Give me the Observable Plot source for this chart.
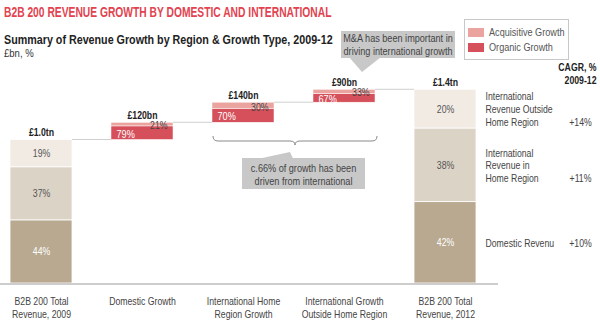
<!DOCTYPE html>
<html><head><meta charset="utf-8">
<script src="https://cdn.jsdelivr.net/npm/d3@7"></script>
<script src="https://cdn.jsdelivr.net/npm/@observablehq/plot@0.6"></script>
<style>
body{margin:0;background:#fff;}
#wrap{position:relative;width:600px;height:323px;overflow:hidden;}
</style></head><body><div id="wrap"></div>
<script>
// ---- data ----
const categories = ["B2B 200 Total\nRevenue, 2009", "Domestic Growth", "International Home\nRegion Growth", "International Growth\nOutside Home Region", "B2B 200 Total\nRevenue, 2012"];
const barLabels = ["£1.0tn", "£120bn", "£140bn", "£90bn", "£1.4tn"];
const segments = ["Domestic Revenu", "International\nRevenue in\nHome Region", "International\nRevenue Outside\nHome Region"];
const total2009 = 1000;
const total2012 = 1350;
const share2009 = [44, 37, 19];
const share2012 = [42, 38, 20];
const growthValues = [120, 140, 90];
const organicPct = [79, 70, 67];
const acquisitivePct = [21, 30, 33];
const cagr = ["+10%", "+11%", "+14%"];
const legendItems = ["Acquisitive Growth", "Organic Growth"];
const callout1 = ["M&A has been important in", "driving international growth"];
const callout2 = ["c.66% of growth has been", "driven from international"];
const titleText = "B2B 200 REVENUE GROWTH BY DOMESTIC AND INTERNATIONAL";
const subtitleText = "Summary of Revenue Growth by Region & Growth Type, 2009-12";
const unitText = "£bn, %";
const cagrHeader = ["CAGR, %", "2009-12"];

// ---- styles ----
const FONT = '"Liberation Sans", Arial, sans-serif';
const NARROW = 0.83;
const segColors = ["#b8a990", "#dcd3c7", "#f1ebe4"];
const segText = ["#ffffff", "#555555", "#555555"];
const organicColor = "#d5505a";
const acquisitiveColor = "#eba39f";

// ---- derived tables ----
const stackRows = [];
function addStack(cat, total, shares) {
  let acc = 0;
  shares.forEach((s, i) => {
    const v = total * s / 100;
    stackRows.push({cat, y1: acc, y2: acc + v, seg: i, label: s + "%"});
    acc += v;
  });
}
addStack(categories[0], total2009, share2009);
addStack(categories[4], total2012, share2012);

const growthRows = [];
const tops = [total2009];
let base = total2009;
growthValues.forEach((v, i) => {
  const cat = categories[i + 1];
  const org = v * organicPct[i] / 100;
  growthRows.push({cat, y1: base, y2: base + org, type: "organic", label: organicPct[i] + "%"});
  growthRows.push({cat, y1: base + org, y2: base + v, type: "acquisitive", label: acquisitivePct[i] + "%"});
  base += v;
  tops.push(base);
});
tops[4] = total2012;
const topRows = categories.map((c, i) => ({cat: c, y: tops[i], label: barLabels[i]}));
const segRows2012 = stackRows.filter(d => d.cat === categories[4]).map(d => ({
  ...d, name: segments[d.seg],
  cagrText: "\n".repeat(segments[d.seg].split("\n").length - 1) + cagr[d.seg]
}));

const plot = Plot.plot({
  width: 600, height: 323, margin: 0,
  style: {fontFamily: FONT, fontSize: "11px", color: "#333", background: "transparent", overflow: "visible"},
  x: {type: "band", domain: categories, range: [8, 478], paddingInner: 0.39, paddingOuter: 0, axis: null},
  y: {domain: [0, 1000], range: [283, 139.5], axis: null},
  color: {type: "identity"},
  marks: [
    Plot.barY(stackRows, {x: "cat", y1: "y1", y2: "y2", fill: d => segColors[d.seg], stroke: "#fff", strokeWidth: 0.8}),
    Plot.text(stackRows, {x: "cat", y: d => (d.y1 + d.y2) / 2, text: "label", fill: d => segText[d.seg], fontSize: 10.5}),
    Plot.barY(growthRows, {x: "cat", y1: "y1", y2: "y2", fill: d => d.type === "organic" ? organicColor : acquisitiveColor, stroke: "#fff", strokeWidth: 0.5}),
    Plot.text(growthRows.filter(d => d.type === "organic"), {x: "cat", y: d => (d.y1 + d.y2) / 2, text: "label", fill: "#fff", fontSize: 11, textAnchor: "start", dx: -26, dy: 1}),
    Plot.text(growthRows.filter(d => d.type === "acquisitive"), {x: "cat", y: d => d.y1, text: "label", fill: "#444", fontSize: 10.5, textAnchor: "end", dx: 25, dy: -1}),
    Plot.text(topRows, {x: "cat", y: "y", text: "label", fontWeight: "bold", fill: "#222", fontSize: 10.5, lineAnchor: "bottom", dy: -4}),
    Plot.text(categories, {x: d => d, y: () => 0, text: d => d, fill: "#444", fontSize: 10.5, lineAnchor: "top", dy: 13, lineHeight: 1.2}),
    Plot.text(segRows2012, {x: "cat", y: d => (d.y1 + d.y2) / 2, text: "name", fill: "#444", fontSize: 10.5, textAnchor: "start", dx: 40, lineHeight: 1.22}),
    Plot.text(segRows2012, {x: "cat", y: d => (d.y1 + d.y2) / 2, text: "cagrText", fill: "#444", fontSize: 10.5, dx: 135, lineHeight: 1.22}),
    Plot.text([cagrHeader.join("\n")], {x: () => categories[4], y: () => total2012, text: d => d, fontWeight: "bold", fill: "#222", fontSize: 10.5, textAnchor: "end", dx: 151, lineAnchor: "bottom", dy: -6, lineHeight: 1.2})
  ]
});

const svg = d3.select(plot);
// condense all Plot text horizontally (narrow face)
svg.selectAll("text").each(function () {
  const x = +(this.getAttribute("x") || 0);
  const t = this.getAttribute("transform") || "";
  this.setAttribute("transform", `${t} translate(${x},0) scale(${NARROW},1) translate(${-x},0)`);
});

const xs = plot.scale("x"), ys = plot.scale("y");
const bw = xs.bandwidth;
const X = c => xs.apply(c);
const Y = v => ys.apply(v);

function addText(g, x, y, str, opts = {}) {
  const t = g.append("text")
    .attr("transform", `translate(${x},${y}) scale(${opts.scale ?? NARROW},1)`)
    .attr("text-anchor", opts.anchor || "start")
    .attr("font-family", FONT)
    .attr("font-size", opts.size || 11)
    .attr("font-weight", opts.weight || "normal")
    .attr("fill", opts.fill || "#444")
    .text(str);
  return t;
}

// baseline
svg.append("line").attr("x1", 0).attr("x2", X(categories[4]) + bw + 22)
  .attr("y1", Y(0) + 1).attr("y2", Y(0) + 1).attr("stroke", "#bdbdbd").attr("stroke-width", 1.5);
// connectors
for (let i = 0; i < 4; i++) {
  svg.append("line").attr("x1", X(categories[i]) + bw).attr("x2", X(categories[i + 1]))
    .attr("y1", Y(tops[i])).attr("y2", Y(tops[i])).attr("stroke", "#cfcfcf").attr("stroke-width", 1);
}

// title, subtitle (fitted to width after insertion)
const titleEl = addText(svg, 4, 17, titleText, {size: 14, weight: "bold", fill: "#e2434f", scale: 1});
const subEl = addText(svg, 4, 44, subtitleText, {size: 13, weight: "bold", fill: "#222", scale: 1});
addText(svg, 4, 57, unitText, {size: 11.5, fill: "#333"});

// legend
const lg = svg.append("g");
lg.append("rect").attr("x", 464.5).attr("y", 19.5).attr("width", 104).attr("height", 40).attr("fill", "#fff").attr("stroke", "#c8c8c8");
[acquisitiveColor, organicColor].forEach((c, i) => {
  lg.append("rect").attr("x", 468).attr("y", 28 + i * 15).attr("width", 16).attr("height", 9).attr("fill", c);
  addText(lg, 489, 36 + i * 15, legendItems[i], {size: 11, fill: "#555"});
});

// callout 1
const c1 = svg.append("g");
const c1x = X(categories[3]) + 28;
c1.append("rect").attr("x", c1x).attr("y", 31).attr("width", 114).attr("height", 27).attr("fill", "#c8c8c8");
c1.append("path").attr("d", `M${c1x + 8},57 L${c1x + 40},57 L${c1x + 21},72 Z`).attr("fill", "#c8c8c8");
callout1.forEach((t, i) => addText(c1, c1x + 57, 42 + i * 13, t, {anchor: "middle", size: 11, fill: "#444"}));

// brace + callout 2
const bx1 = X(categories[2]) + 1, bx2 = X(categories[3]) + bw + 2, by = 141, bm = (bx1 + bx2) / 2;
svg.append("path").attr("d",
  `M${bx1},${by - 5} Q${bx1},${by} ${bx1 + 5},${by} L${bm - 5},${by} Q${bm},${by} ${bm},${by + 4} Q${bm},${by} ${bm + 5},${by} L${bx2 - 5},${by} Q${bx2},${by} ${bx2},${by - 5}`)
  .attr("fill", "none").attr("stroke", "#8a8a8a").attr("stroke-width", 1);
const c2 = svg.append("g");
const c2x = bm - 53;
c2.append("rect").attr("x", c2x).attr("y", 158).attr("width", 123).attr("height", 31).attr("fill", "#c8c8c8");
c2.append("path").attr("d", `M${c2x + 18},158.5 L${bm - 5},152 L${bm - 2},158.5 Z`).attr("fill", "#c8c8c8");
callout2.forEach((t, i) => addText(c2, c2x + 61.5, 172 + i * 12.5, t, {anchor: "middle", size: 11, fill: "#444"}));

document.getElementById("wrap").appendChild(plot);

// fit title & subtitle widths with a horizontal scale
[[titleEl, 328, 17], [subEl, 329, 44]].forEach(([el, w, y]) => {
  const len = el.node().getComputedTextLength();
  if (len > 0) el.attr("transform", `translate(4,${y}) scale(${w / len},1)`);
});
</script></body></html>
